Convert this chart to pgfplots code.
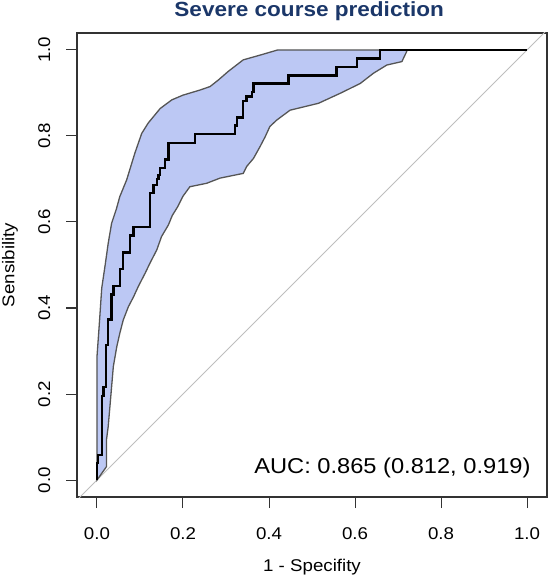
\documentclass[border=0pt]{standalone}
\usepackage{pgfplots}
\pgfplotsset{compat=1.18}
\usepackage{fontspec}
\setmainfont[FakeStretch=1.1]{Liberation Sans}
\definecolor{bandfill}{RGB}{188,200,244}
\definecolor{bandedge}{RGB}{85,85,85}
\definecolor{titleblue}{RGB}{27,55,105}
\definecolor{diag}{RGB}{190,190,190}
\begin{document}
\begin{tikzpicture}
\useasboundingbox (-77pt,-83pt) rectangle (473pt,497pt);
\begin{axis}[
  at={(0pt,0pt)}, anchor=south west,
  scale only axis, width=470pt, height=464pt,
  xmin=-0.0465, xmax=1.0465, ymin=-0.0395, ymax=1.0395,
  axis line style={draw=black!80, line width=1.1pt},
  xtick={0,0.2,0.4,0.6,0.8,1}, ytick={0,0.2,0.4,0.6,0.8,1},
  xticklabels={0.0,0.2,0.4,0.6,0.8,1.0},
  yticklabels={0.0,0.2,0.4,0.6,0.8,1.0},
  tick align=outside, xtick pos=bottom, ytick pos=left,
  major tick length=11pt,
  tick style={draw=black!80, line width=1pt},
  /pgf/number format/assume math mode=true,
  ticklabel style={font=\fontsize{17}{17}\selectfont},
  xticklabel style={anchor=base, yshift=-31pt},
  yticklabel style={anchor=base, rotate=90},
  yticklabel shift=16pt,
  xlabel={1 - Specifity}, ylabel={Sensibility},
  label style={font=\fontsize{17}{17}\selectfont},
  xlabel style={at={(axis description cs:0.5,-0.1616)}, anchor=base},
  ylabel style={at={(axis description cs:-0.133,0.5)}, anchor=base, rotate=0},
  every axis title shift=0pt,
  title={Severe course prediction},
  title style={at={(axis description cs:0.494,1.035)}, anchor=base, yshift=0pt, font=\fontsize{20.5}{20.5}\selectfont\bfseries, text=titleblue},
  clip=true,
]
\addplot[draw=diag, line width=0.9pt] coordinates {(-0.1,-0.1) (1.1,1.1)};
\addplot[fill=bandfill, draw=bandedge, line width=1.3pt] coordinates {
(0,0) (0,0.287) (0.005,0.357) (0.011,0.446) (0.019,0.5) (0.026,0.55) (0.034,0.597)
(0.045,0.63) (0.053,0.659) (0.069,0.698) (0.088,0.76) (0.104,0.806) (0.119,0.83)
(0.147,0.864) (0.174,0.884) (0.2,0.895) (0.24,0.907) (0.263,0.915) (0.282,0.93)
(0.305,0.95) (0.34,0.977) (0.379,0.988) (0.42,1) (0.72,1)
(0.72,0.996) (0.709,0.973) (0.674,0.965) (0.643,0.946) (0.612,0.922) (0.565,0.899)
(0.515,0.876) (0.449,0.86) (0.418,0.837) (0.402,0.822) (0.391,0.798) (0.379,0.775)
(0.364,0.748) (0.348,0.729) (0.34,0.713) (0.286,0.702) (0.255,0.69) (0.216,0.682)
(0.2,0.66) (0.188,0.636) (0.175,0.615) (0.166,0.593) (0.15,0.566) (0.139,0.535)
(0.123,0.504) (0.112,0.481) (0.096,0.45) (0.085,0.426) (0.073,0.403) (0.061,0.372)
(0.053,0.341) (0.046,0.31) (0.038,0.264) (0.034,0.217) (0.03,0.17) (0.026,0.124)
(0.022,0.093) (0.022,0.031) (0,0)
} -- cycle;
\addplot[draw=black, line width=2.4pt, line join=miter] coordinates {
(0,0) (0,0.039) (0.003,0.039) (0.003,0.058) (0.011,0.058) (0.011,0.196) (0.015,0.196)
(0.015,0.216) (0.021,0.216) (0.021,0.314) (0.026,0.314) (0.026,0.373) (0.034,0.373)
(0.034,0.431) (0.038,0.431) (0.038,0.451) (0.054,0.451) (0.054,0.490) (0.061,0.490)
(0.061,0.529) (0.077,0.529) (0.077,0.569) (0.085,0.569) (0.085,0.588) (0.123,0.588)
(0.123,0.667) (0.131,0.667) (0.131,0.686) (0.139,0.686) (0.139,0.700) (0.143,0.700)
(0.143,0.709) (0.147,0.709) (0.147,0.725) (0.158,0.725) (0.158,0.745) (0.166,0.745)
(0.166,0.784) (0.228,0.784) (0.228,0.804) (0.321,0.804) (0.321,0.824) (0.325,0.824)
(0.325,0.843) (0.340,0.843) (0.340,0.882) (0.348,0.882) (0.348,0.892) (0.360,0.892)
(0.360,0.902) (0.364,0.902) (0.364,0.922) (0.445,0.922) (0.445,0.941) (0.557,0.941)
(0.557,0.961) (0.604,0.961) (0.604,0.980) (0.658,0.980) (0.658,1) (1,1)
};
\node[anchor=base east, font=\fontsize{21.5}{21.5}\selectfont] at (axis cs:1.0163,0.0163) {AUC: 0.865 (0.812, 0.919)};
\end{axis}
\end{tikzpicture}
\end{document}
